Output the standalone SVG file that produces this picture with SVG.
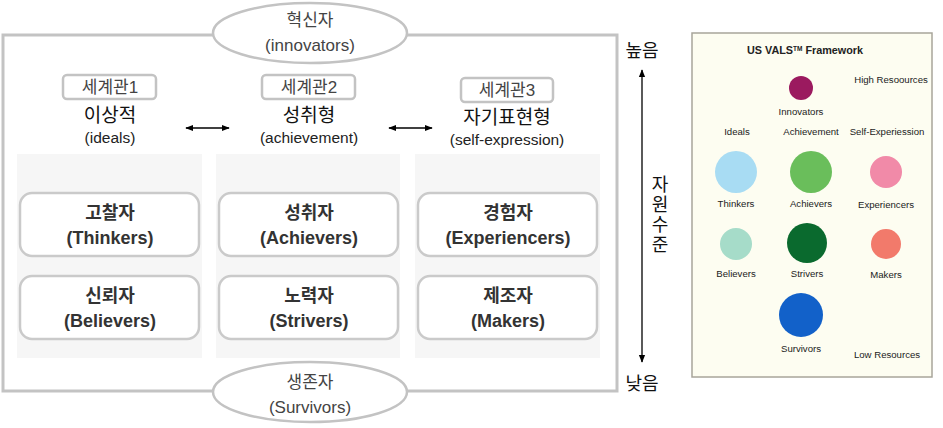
<svg xmlns="http://www.w3.org/2000/svg" width="943" height="428" viewBox="0 0 943 428">
<style>
text{font-family:"Liberation Sans","Noto Sans CJK KR",sans-serif;text-anchor:middle}
.frame{fill:none;stroke:#c3c3c3;stroke-width:3}
.ell{fill:#fff;stroke:#c3c3c3;stroke-width:2.5}
.ellt{font-size:17px;fill:#444}
.wv{fill:#fff;stroke:#c3c3c3;stroke-width:2.5}
.wvt{font-size:17px;fill:#444}
.ko{font-size:19px;fill:#111}
.en{font-size:15.5px;fill:#222}
.col{fill:#f6f6f6}
.card{fill:#fff;stroke:#cacaca;stroke-width:2.5}
.ct{font-size:18px;font-weight:bold;fill:#333}
.arr{stroke:#000;stroke-width:1.3;fill:none}
.side{font-size:18px;fill:#111}
.panel{fill:#fdfdf1;stroke:#a8a59a;stroke-width:1.5}
.pt{font-size:9.6px;fill:#222}
</style>
<defs>
<marker id="ah" viewBox="0 0 10 10" refX="9" refY="5" markerWidth="8" markerHeight="8" markerUnits="userSpaceOnUse" orient="auto-start-reverse">
<path d="M0,1 L10,5 L0,9 z" fill="#000"/>
</marker>
</defs>

<rect class="frame" x="3" y="35" width="614" height="356"/>

<g id="worldviews">
<g id="wv1">
<rect class="wv" x="63" y="75" width="93" height="24" rx="4"/>
<text class="wvt" x="110" y="93">세계관1</text>
<text class="ko" x="110" y="122">이상적</text>
<text class="en" x="110" y="143">(ideals)</text>
</g>
<g id="wv2">
<rect class="wv" x="262" y="75" width="93" height="24" rx="4"/>
<text class="wvt" x="309" y="93">세계관2</text>
<text class="ko" x="309" y="122">성취형</text>
<text class="en" x="309" y="143">(achievement)</text>
</g>
<g id="wv3">
<rect class="wv" x="461" y="78" width="92" height="24" rx="4"/>
<text class="wvt" x="507" y="96">세계관3</text>
<text class="ko" x="507" y="124">자기표현형</text>
<text class="en" x="507" y="145">(self-expression)</text>
</g>
</g>

<g id="columns">
<rect class="col" x="17" y="154" width="185" height="204"/>
<rect class="col" x="216" y="154" width="184" height="204"/>
<rect class="col" x="415" y="154" width="185" height="204"/>
</g>

<g id="thinkers"><rect class="card" x="20" y="193" width="179" height="63" rx="12"/>
<text class="ct" x="110" y="219">고찰자</text><text class="ct" x="110" y="244">(Thinkers)</text></g>
<g id="believers"><rect class="card" x="20" y="276" width="179" height="63" rx="12"/>
<text class="ct" x="110" y="302">신뢰자</text><text class="ct" x="110" y="327">(Believers)</text></g>
<g id="achievers"><rect class="card" x="219" y="193" width="179" height="63" rx="12"/>
<text class="ct" x="309" y="219">성취자</text><text class="ct" x="309" y="244">(Achievers)</text></g>
<g id="strivers"><rect class="card" x="219" y="276" width="179" height="63" rx="12"/>
<text class="ct" x="309" y="302">노력자</text><text class="ct" x="309" y="327">(Strivers)</text></g>
<g id="experiencers"><rect class="card" x="418" y="193" width="179" height="63" rx="12"/>
<text class="ct" x="508" y="219">경험자</text><text class="ct" x="508" y="244">(Experiencers)</text></g>
<g id="makers"><rect class="card" x="418" y="276" width="179" height="63" rx="12"/>
<text class="ct" x="508" y="302">제조자</text><text class="ct" x="508" y="327">(Makers)</text></g>

<g id="innovators">
<ellipse class="ell" cx="310" cy="33" rx="97" ry="30"/>
<text class="ellt" x="310" y="26">혁신자</text>
<text class="ellt" x="310" y="51">(innovators)</text>
</g>
<g id="survivors">
<ellipse class="ell" cx="310" cy="392" rx="97" ry="30"/>
<text class="ellt" x="310" y="388">생존자</text>
<text class="ellt" x="310" y="413">(Survivors)</text>
</g>

<g id="connectors">
<line class="arr" x1="186" y1="128" x2="229" y2="128" marker-start="url(#ah)" marker-end="url(#ah)"/>
<line class="arr" x1="389" y1="128" x2="432" y2="128" marker-start="url(#ah)" marker-end="url(#ah)"/>
<line class="arr" x1="642" y1="70" x2="642" y2="362" marker-start="url(#ah)" marker-end="url(#ah)"/>
</g>

<g id="axis-labels">
<text class="side" x="642" y="57">높음</text>
<text class="side" x="642" y="390">낮음</text>
<text class="side" x="660" y="191">자</text>
<text class="side" x="660" y="211">원</text>
<text class="side" x="660" y="231">수</text>
<text class="side" x="660" y="251">준</text>
</g>

<g id="vals-panel">
<rect class="panel" x="692" y="33" width="240" height="344"/>
<text x="805" y="54" style="font-size:10.8px;font-weight:bold;fill:#222">US VALS<tspan style="font-size:6.5px" dy="-3">TM</tspan><tspan dy="3"> Framework</tspan></text>
<text class="pt" x="891" y="83">High Resoources</text>
<circle cx="801" cy="88" r="12" fill="#9b1a5f"/>
<text class="pt" x="801" y="115">Innovators</text>
<text class="pt" x="737" y="135">Ideals</text>
<text class="pt" x="811" y="135">Achievement</text>
<text class="pt" x="887" y="135">Self-Experiession</text>
<circle cx="736" cy="172" r="21" fill="#a8dcf3"/>
<circle cx="811" cy="172" r="21" fill="#6abe5b"/>
<circle cx="886" cy="172" r="16" fill="#f18aa8"/>
<text class="pt" x="736" y="207">Thinkers</text>
<text class="pt" x="811" y="207">Achievers</text>
<text class="pt" x="886" y="208">Experiencers</text>
<circle cx="736" cy="244" r="16" fill="#a6dcc9"/>
<circle cx="807" cy="243" r="20" fill="#0a6a2e"/>
<circle cx="886" cy="244" r="15" fill="#f27a6b"/>
<text class="pt" x="736" y="277">Believers</text>
<text class="pt" x="807" y="277">Strivers</text>
<text class="pt" x="886" y="278">Makers</text>
<circle cx="801" cy="315" r="22" fill="#1261c9"/>
<text class="pt" x="801" y="352">Survivors</text>
<text class="pt" x="887" y="358">Low Resources</text>
</g>
</svg>
